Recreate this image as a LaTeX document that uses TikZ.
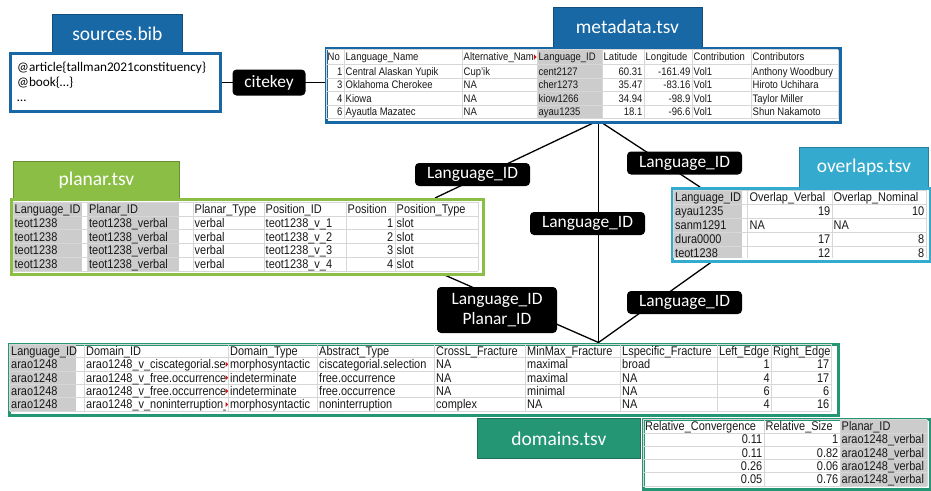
\documentclass[tikz,border=0pt]{standalone}
\usepackage{fontspec}
\setmainfont{Carlito}
\newfontfamily\tabfont[FakeStretch=0.87]{Liberation Sans}
\usetikzlibrary{calc,shadows}
\definecolor{cblue}{RGB}{24,104,166}
\definecolor{cgreen}{RGB}{138,190,68}
\definecolor{cteal}{RGB}{36,150,116}
\definecolor{ccyan}{RGB}{52,170,206}
\definecolor{cgray}{RGB}{204,204,204}
\definecolor{cgrid}{RGB}{215,215,215}
\definecolor{cred}{RGB}{200,20,20}
\tikzset{
 tabbox/.style={draw=#1!75!black, line width=0.8pt, fill=#1, text=white, font=\fontsize{19.5}{22}\selectfont, inner sep=0pt, anchor=north west},
 bodybox/.style={draw=#1, line width=3pt, fill=white, inner sep=0pt, anchor=north west, drop shadow={shadow xshift=1.5pt,shadow yshift=-1.5pt,opacity=0.3,fill=black!60}},
 lab/.style={fill=black, rounded corners=4pt, text=white, font=\fontsize{17.4}{20.7}\selectfont, inner xsep=5pt, inner ysep=2pt, align=center, minimum width=115pt, minimum height=23pt},
 conn/.style={line width=1.3pt, black},
 tc/.style={font=\tabfont\fontsize{12.6}{14}\selectfont, inner sep=0pt, text height=9pt, text depth=0pt, text=black!90},
 tcs/.style={font=\tabfont\fontsize{10.9}{12}\selectfont, inner sep=0pt, text height=7.8pt, text depth=0pt, text=black!90},
 gridline/.style={cgrid, line width=0.6pt},
 srctext/.style={font=\fontsize{13.2}{15}\selectfont, anchor=base west, inner sep=0pt},
}
\newcommand\cellL[4][tc]{\node[#1,anchor=west] at (#2,#3) {#4};}
\newcommand\cellR[4][tc]{\node[#1,anchor=east] at (#2,#3) {#4};}
\newcommand\gridHor[3]{\foreach \yy in {#3} {\draw[gridline] (#1,\yy) -- (#2,\yy);}}
\newcommand\gridVer[3]{\foreach \xx in {#3} {\draw[gridline] (\xx,#1) -- (\xx,#2);}}
\newcommand\redmark[2]{\fill[cred] (#1-2.6,#2-2.6) -- (#1,#2) -- (#1-2.6,#2+2.6) -- cycle;}
\begin{document}
\begin{tikzpicture}[x=1pt,y=-1pt]
\useasboundingbox (0,0) rectangle (931,490);
\fill[white] (0,0) rectangle (931,490);

% ---------- tabs ----------
\node[tabbox=cblue, minimum width=130, minimum height=38] (srctab) at (52,14) {sources.bib};
\node[tabbox=cblue, minimum width=149, minimum height=40] (metatab) at (552.5,6.5) {metadata.tsv};
\node[tabbox=cgreen, minimum width=166, minimum height=37] (plantab) at (13,161) {planar.tsv};
\node[tabbox=ccyan, minimum width=129, minimum height=40] (overtab) at (799,147) {overlaps.tsv};
\node[tabbox=cteal, minimum width=163, minimum height=40] (domtab) at (477,418) {domains.tsv};

% ---------- connector end points ----------
\coordinate (mB) at (598.5,120.5);
\coordinate (dT) at (598.5,342.5);
\coordinate (pT) at (435,198);
\coordinate (pB) at (440,273);
\coordinate (oT) at (700,187);
\coordinate (oB) at (715,259.5);

% ---------- connectors ----------
\draw[conn] (mB) -- (dT);
\draw[conn] (mB) -- (pT);
\draw[conn] (mB) -- (oT);
\draw[conn] (pB) -- (dT);
\draw[conn] (oB) -- (dT);

% ---------- bodies ----------
\node[bodybox=cblue, minimum width=210, minimum height=57.5] (src) at (8.5,52) {};
\node[bodybox=cblue, minimum width=514.5, minimum height=74] (meta) at (324.5,46.5) {};
\node[bodybox=cgreen, minimum width=472, minimum height=75] (planar) at (10,198) {};
\node[bodybox=ccyan, minimum width=257.5, minimum height=72.5] (over) at (671,187) {};
\node[bodybox=cteal, minimum width=829.5, minimum height=71.5] (dom) at (7.5,342.5) {};
\node[bodybox=cteal, minimum width=287, minimum height=69.5] (dom2) at (641.5,418) {};

\draw[conn] (src.east) -- (src.east -| meta.west);

% ---------- sources.bib text ----------
\node[srctext] at (17,71) {@article\{tallman2021constituency\}};
\node[srctext] at (17,86) {@book\{…\}};
\node[srctext] at (17,101) {…};

% ---------- metadata table ----------
\fill[cgray] (537,49.5) rectangle (602,118.5);
\gridHor{326}{838}{49.5,64.5,78,91.5,105,118.5}
\gridVer{49.5}{118.5}{326,344,462,537,602,644,692,751,838}
\begin{scope}
\clip (462,49) rectangle (534,65);
\cellL[tcs]{463.5}{57}{Alternative\_Name}
\end{scope}
\redmark{536.5}{57}
\cellL[tcs]{327.5}{57}{No}
\cellL[tcs]{345.5}{57}{Language\_Name}
\cellL[tcs]{538.5}{57}{Language\_ID}
\cellL[tcs]{603.5}{57}{Latitude}
\cellL[tcs]{645.5}{57}{Longitude}
\cellL[tcs]{693.5}{57}{Contribution}
\cellL[tcs]{752.5}{57}{Contributors}
\cellR[tcs]{342.5}{71.25}{1}
\cellL[tcs]{345.5}{71.25}{Central Alaskan Yupik}
\cellL[tcs]{463.5}{71.25}{Cup’ik}
\cellL[tcs]{538.5}{71.25}{cent2127}
\cellR[tcs]{642.5}{71.25}{60.31}
\cellR[tcs]{690.5}{71.25}{-161.49}
\cellL[tcs]{693.5}{71.25}{Vol1}
\cellL[tcs]{752.5}{71.25}{Anthony Woodbury}
\cellR[tcs]{342.5}{84.75}{3}
\cellL[tcs]{345.5}{84.75}{Oklahoma Cherokee}
\cellL[tcs]{463.5}{84.75}{NA}
\cellL[tcs]{538.5}{84.75}{cher1273}
\cellR[tcs]{642.5}{84.75}{35.47}
\cellR[tcs]{690.5}{84.75}{-83.16}
\cellL[tcs]{693.5}{84.75}{Vol1}
\cellL[tcs]{752.5}{84.75}{Hiroto Uchihara}
\cellR[tcs]{342.5}{98.25}{4}
\cellL[tcs]{345.5}{98.25}{Kiowa}
\cellL[tcs]{463.5}{98.25}{NA}
\cellL[tcs]{538.5}{98.25}{kiow1266}
\cellR[tcs]{642.5}{98.25}{34.94}
\cellR[tcs]{690.5}{98.25}{-98.9}
\cellL[tcs]{693.5}{98.25}{Vol1}
\cellL[tcs]{752.5}{98.25}{Taylor Miller}
\cellR[tcs]{342.5}{111.75}{6}
\cellL[tcs]{345.5}{111.75}{Ayautla Mazatec}
\cellL[tcs]{463.5}{111.75}{NA}
\cellL[tcs]{538.5}{111.75}{ayau1235}
\cellR[tcs]{642.5}{111.75}{18.1}
\cellR[tcs]{690.5}{111.75}{-96.6}
\cellL[tcs]{693.5}{111.75}{Vol1}
\cellL[tcs]{752.5}{111.75}{Shun Nakamoto}

% ---------- planar table ----------
\fill[cgray] (13,202.3) rectangle (82,270.8);
\fill[cgray] (88,202.3) rectangle (179,270.8);
\gridHor{13}{478}{202.3,216,229.7,243.4,257.1,270.8}
\gridVer{202.3}{270.8}{13,87,193,264,346,395,478}
\cellL{14.5}{209.15}{Language\_ID}
\cellL{89}{209.15}{Planar\_ID}
\cellL{194.5}{209.15}{Planar\_Type}
\cellL{265.5}{209.15}{Position\_ID}
\cellL{347.5}{209.15}{Position}
\cellL{396.5}{209.15}{Position\_Type}
\foreach \n/\yc in {1/222.85,2/236.55,3/250.25,4/263.95}{
 \cellL{14.5}{\yc}{teot1238}
 \cellL{89}{\yc}{teot1238\_verbal}
 \cellL{194.5}{\yc}{verbal}
 \cellL{265.5}{\yc}{teot1238\_v\_\n}
 \cellR{393.5}{\yc}{\n}
 \cellL{396.5}{\yc}{slot}
}

% ---------- overlaps table ----------
\fill[cgray] (673.5,190.4) rectangle (742,257.5);
\gridHor{673.5}{926}{190.4,204.2,218.1,232,245.8}
\gridVer{190.4}{257.5}{673.5,747.5,832,926}
\cellL{675}{197.3}{Language\_ID}
\cellL{749.5}{197.3}{Overlap\_Verbal}
\cellL{833.5}{197.3}{Overlap\_Nominal}
\cellL{675}{211.15}{ayau1235}
\cellR{830.5}{211.15}{19}
\cellR{924.5}{211.15}{10}
\cellL{675}{225.05}{sanm1291}
\cellL{749.5}{225.05}{NA}
\cellL{833.5}{225.05}{NA}
\cellL{675}{238.9}{dura0000}
\cellR{830.5}{238.9}{17}
\cellR{924.5}{238.9}{8}
\cellL{675}{252.7}{teot1238}
\cellR{830.5}{252.7}{12}
\cellR{924.5}{252.7}{8}

% ---------- domains table ----------
\fill[cgray] (9.5,344.2) rectangle (76,411.2);
\gridHor{9.5}{831}{344.2,357.7,371,384.4,397.7,411.2}
\gridVer{344.2}{411.2}{9.5,84.5,228.5,317.5,434.5,525.5,620.5,717.5,771.5,831}
\cellL{11}{350.95}{Language\_ID}
\cellL{86}{350.95}{Domain\_ID}
\cellL{230}{350.95}{Domain\_Type}
\cellL{319}{350.95}{Abstract\_Type}
\cellL{436}{350.95}{CrossL\_Fracture}
\cellL{527}{350.95}{MinMax\_Fracture}
\cellL{622}{350.95}{Lspecific\_Fracture}
\cellL{719}{350.95}{Left\_Edge}
\cellL{773}{350.95}{Right\_Edge}
\begin{scope}
\clip (84.5,344) rectangle (225.6,412);
\cellL{86}{364.35}{arao1248\_v\_ciscategorial.se}
\cellL{86}{377.7}{arao1248\_v\_free.occurrence}
\cellL{86}{391.05}{arao1248\_v\_free.occurrence}
\cellL{86}{404.45}{arao1248\_v\_noninterruption\_}
\end{scope}
\redmark{228.2}{364.35}
\redmark{228.2}{377.7}
\redmark{228.2}{391.05}
\redmark{228.2}{404.45}
\cellL{11}{364.35}{arao1248}
\cellL{230}{364.35}{morphosyntactic}
\cellL{319}{364.35}{ciscategorial.selection}
\cellL{436}{364.35}{NA}
\cellL{527}{364.35}{maximal}
\cellL{622}{364.35}{broad}
\cellR{770}{364.35}{1}
\cellR{829.5}{364.35}{17}
\cellL{11}{377.7}{arao1248}
\cellL{230}{377.7}{indeterminate}
\cellL{319}{377.7}{free.occurrence}
\cellL{436}{377.7}{NA}
\cellL{527}{377.7}{maximal}
\cellL{622}{377.7}{NA}
\cellR{770}{377.7}{4}
\cellR{829.5}{377.7}{17}
\cellL{11}{391.05}{arao1248}
\cellL{230}{391.05}{indeterminate}
\cellL{319}{391.05}{free.occurrence}
\cellL{436}{391.05}{NA}
\cellL{527}{391.05}{minimal}
\cellL{622}{391.05}{NA}
\cellR{770}{391.05}{6}
\cellR{829.5}{391.05}{6}
\cellL{11}{404.45}{arao1248}
\cellL{230}{404.45}{morphosyntactic}
\cellL{319}{404.45}{noninterruption}
\cellL{436}{404.45}{complex}
\cellL{527}{404.45}{NA}
\cellL{622}{404.45}{NA}
\cellR{770}{404.45}{4}
\cellR{829.5}{404.45}{16}

% ---------- domains table (continued) ----------
\fill[cgray] (840,419.5) rectangle (927,486);
\gridHor{643}{927}{419.5,432.8,446.1,459.4,472.7,486}
\gridVer{419.5}{486}{643,764,840,927}
\cellL{645}{426.15}{Relative\_Convergence}
\cellL{765.5}{426.15}{Relative\_Size}
\cellL{841.5}{426.15}{Planar\_ID}
\foreach \rc/\rs/\yc in {0.11/1/439.45,0.11/0.82/452.75,0.26/0.06/466.05,0.05/0.76/479.35}{
 \cellR{762.5}{\yc}{\rc}
 \cellR{838.5}{\yc}{\rs}
 \cellL{841.5}{\yc}{arao1248\_verbal}
}

% ---------- connector labels ----------
\node[lab, minimum width=73pt, minimum height=26pt] (lcite) at (269,82.5) {citekey};
\node[lab] (lpl) at (472.5,174.5) {Language\_ID};
\node[lab] (lmid) at (587.5,223.5) {Language\_ID};
\node[lab] (lov) at (684.5,163) {Language\_ID};
\node[lab, minimum width=120pt, minimum height=46pt] (lpd) at (497,310) {Language\_ID\\Planar\_ID};
\node[lab] (lod) at (684.5,302.5) {Language\_ID};
\end{tikzpicture}
\end{document}
